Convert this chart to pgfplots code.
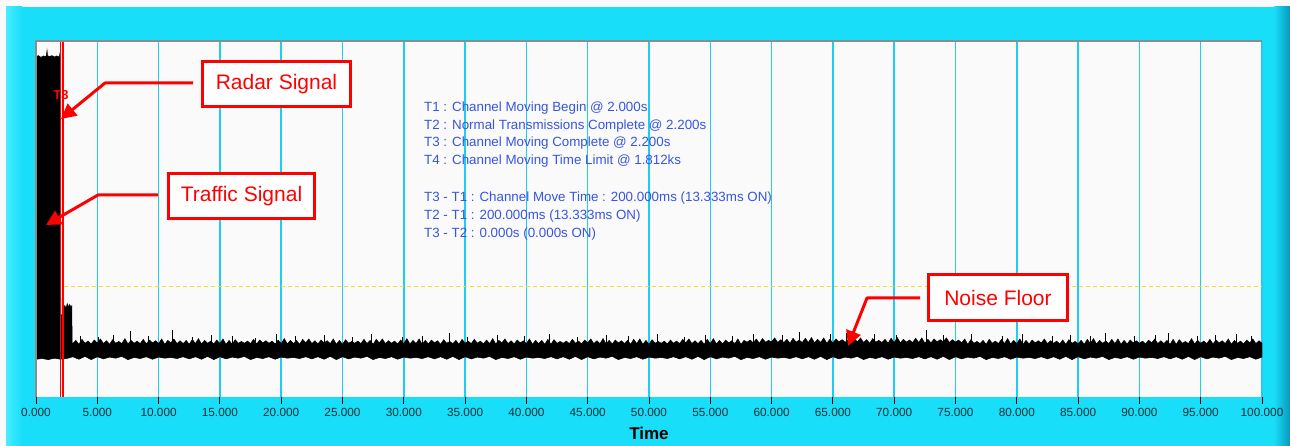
\documentclass[border=0pt]{standalone}
\usepackage{fontspec}
\setmainfont{Liberation Sans}
\usepackage{pgfplots}
\pgfplotsset{compat=1.18}
\usetikzlibrary{arrows.meta}
\definecolor{bgcyan}{RGB}{24,222,250}
\definecolor{lightcyan}{RGB}{70,238,255}
\definecolor{darkcyan}{RGB}{10,150,185}
\definecolor{gridcyan}{RGB}{30,205,242}
\definecolor{plotbg}{RGB}{250,250,250}
\definecolor{txtblue}{RGB}{55,85,225}
\definecolor{ticktxt}{RGB}{16,48,52}
\definecolor{dashyel}{RGB}{235,225,40}
\definecolor{mred}{RGB}{255,0,0}
\definecolor{bordergray}{RGB}{140,140,140}
\begin{document}
\begin{tikzpicture}[x=1pt,y=1pt]
\useasboundingbox (0,0) rectangle (1290,446);
\fill[plotbg] (0,0) rectangle (1290,446);
\fill[bgcyan] (6,0) rectangle (1290,439);
\shade[left color=lightcyan,right color=bgcyan] (6,0) rectangle (22,439);
\shade[left color=bgcyan,right color=darkcyan] (1274,0) rectangle (1290,439);
\begin{axis}[
  at={(36pt,49pt)}, anchor=south west, scale only axis,
  width=1226pt, height=356pt,
  xmin=0, xmax=100, ymin=0, ymax=100,
  axis background/.style={fill=plotbg},
  axis line style={draw=none},
  ytick=\empty,
  xtick={0,5,...,100},
  xticklabels={0.000,5.000,10.000,15.000,20.000,25.000,30.000,35.000,40.000,45.000,50.000,55.000,60.000,65.000,70.000,75.000,80.000,85.000,90.000,95.000,100.000},
  xtick pos=left, tick align=outside, major tick length=7pt,
  major x tick style={black, line width=1pt},
  xticklabel style={font=\fontsize{11.8}{13}\selectfont, text=ticktxt, yshift=-1pt},
  xmajorgrids, grid style={gridcyan, line width=1.5pt},
  xlabel={Time},
  xlabel style={at={(axis description cs:0.5,0)}, anchor=center, yshift=-36pt, font=\fontsize{17}{20}\selectfont\bfseries},
  unbounded coords=jump,
  clip=true,
]
% threshold
\addplot[dashyel, line width=1pt, dash pattern=on 4pt off 3pt] coordinates {(0,30.9)(100,30.9)};
% signal envelope (upper then lower)
\addplot[fill=black, draw=black, line width=0.5pt] coordinates {
(0,95.6)(0.2,95.9)(0.4,95.4)(0.6,95.8)(0.8,95.6)(0.86,96.2)(0.9,97.4)(0.94,95.9)(1.1,95.6)(1.3,95.9)(1.5,95.5)(1.7,95.8)(1.9,95.5)(1.96,96.6)(2.0,95.8)
(2.02,23.0)(2.2,23.2)(2.24,25.1)(2.35,25.7)(2.45,24.9)(2.55,26.2)(2.65,25.3)(2.75,26.0)(2.85,25.2)(2.92,25.6)(2.95,15.3)
(3,15.0)(3.25,15.9)(3.5,14.8)(3.75,16.2)(4,15.1)(4.25,15.7)(4.5,14.9)(4.75,16.0)
(5,15.2)(5.25,16.3)(5.5,15.0)(5.75,15.8)(6,14.8)(6.25,16.1)(6.5,15.1)(6.75,15.6)
(7,15.0)(7.25,16.4)(7.5,14.9)(7.75,15.9)(8,15.1)(8.25,15.7)(8.5,15.0)(8.75,16.2)
(9,14.9)(9.25,16.0)(9.5,15.2)(9.75,15.8)(10,15.0)(10.25,16.3)(10.5,14.8)(10.75,15.9)
(11,15.2)(11.25,16.3)(11.5,15.0)(11.75,15.8)(12,15.0)(12.25,15.9)(12.5,14.8)(12.75,16.2)
(13,15.0)(13.25,16.4)(13.5,14.9)(13.75,15.9)(14,15.1)(14.25,15.7)(14.5,14.9)(14.75,16.0)
(15,15.0)(15.25,16.3)(15.5,14.8)(15.75,15.9)(16,14.8)(16.25,16.1)(16.5,15.1)(16.75,15.6)
(17,15.1)(17.25,15.7)(17.5,15.0)(17.75,16.2)(18,14.9)(18.25,16.0)(18.5,15.2)(18.75,15.8)
(19,15.1)(19.25,15.7)(19.5,14.9)(19.75,16.0)(20,15.0)(20.25,16.4)(20.5,14.9)(20.75,15.9)
(21,15.0)(21.25,15.9)(21.5,14.8)(21.75,16.2)(22,15.2)(22.25,16.3)(22.5,15.0)(22.75,15.8)
(23,14.9)(23.25,16.0)(23.5,15.2)(23.75,15.8)(24,15.0)(24.25,16.3)(24.5,14.8)(24.75,15.9)
(25,14.8)(25.25,16.1)(25.5,15.1)(25.75,15.6)(26,15.1)(26.25,15.7)(26.5,15.0)(26.75,16.2)
(27,15.0)(27.25,15.9)(27.5,14.8)(27.75,16.2)(28,15.2)(28.25,16.3)(28.5,15.0)(28.75,15.8)
(29,15.1)(29.25,15.7)(29.5,14.9)(29.75,16.0)(30,15.0)(30.25,16.4)(30.5,14.9)(30.75,15.9)
(31,15.0)(31.25,16.3)(31.5,14.8)(31.75,15.9)(32,14.9)(32.25,16.0)(32.5,15.2)(32.75,15.8)
(33,14.8)(33.25,16.1)(33.5,15.1)(33.75,15.6)(34,15.0)(34.25,15.9)(34.5,14.8)(34.75,16.2)
(35,15.1)(35.25,15.7)(35.5,15.0)(35.75,16.2)(36,15.1)(36.25,15.7)(36.5,14.9)(36.75,16.0)
(37,15.0)(37.25,16.4)(37.5,14.9)(37.75,15.9)(38,15.2)(38.25,16.3)(38.5,15.0)(38.75,15.8)
(39,14.9)(39.25,16.0)(39.5,15.2)(39.75,15.8)(40,15.0)(40.25,16.3)(40.5,14.8)(40.75,15.9)
(41,15.0)(41.25,15.9)(41.5,14.8)(41.75,16.2)(42,14.8)(42.25,16.1)(42.5,15.1)(42.75,15.6)
(43,15.1)(43.25,15.7)(43.5,15.0)(43.75,16.2)(44,15.1)(44.25,15.7)(44.5,14.9)(44.75,16.0)
(45,15.2)(45.25,16.3)(45.5,15.0)(45.75,15.8)(46,15.0)(46.25,16.4)(46.5,14.9)(46.75,15.9)
(47,14.9)(47.25,16.0)(47.5,15.2)(47.75,15.8)(48,15.0)(48.25,15.9)(48.5,14.8)(48.75,16.2)
(49,15.0)(49.25,16.3)(49.5,14.8)(49.75,15.9)(50,14.8)(50.25,16.1)(50.5,15.1)(50.75,15.6)
(51,15.1)(51.25,15.7)(51.5,14.9)(51.75,16.0)(52,15.1)(52.25,15.7)(52.5,15.0)(52.75,16.2)
(53,15.2)(53.25,16.3)(53.5,15.0)(53.75,15.8)(54,15.0)(54.25,15.9)(54.5,14.8)(54.75,16.2)
(55,15.0)(55.25,16.4)(55.5,14.9)(55.75,15.9)(56,14.9)(56.25,16.0)(56.5,15.2)(56.75,15.8)
(57,15.0)(57.25,16.3)(57.5,14.8)(57.75,15.9)(58,15.4)(58.25,16.0)(58.5,15.2)(58.75,16.3)
(59,15.1)(59.25,16.4)(59.5,15.4)(59.75,15.9)(60,15.5)(60.25,16.6)(60.5,15.3)(60.75,16.1)
(61,15.3)(61.25,16.2)(61.5,15.1)(61.75,16.5)(62,15.4)(62.25,16.0)(62.5,15.3)(62.75,16.5)
(63,15.3)(63.25,16.7)(63.5,15.2)(63.75,16.2)(64,15.3)(64.25,16.6)(64.5,15.1)(64.75,16.2)
(65,15.2)(65.25,16.3)(65.5,15.5)(65.75,16.1)(66,15.4)(66.25,16.0)(66.5,15.2)(66.75,16.3)
(67,15.5)(67.25,16.6)(67.5,15.3)(67.75,16.1)(68,15.1)(68.25,16.4)(68.5,15.4)(68.75,15.9)
(69,15.3)(69.25,16.2)(69.5,15.1)(69.75,16.5)(70,15.3)(70.25,16.7)(70.5,15.2)(70.75,16.2)
(71,15.4)(71.25,16.0)(71.5,15.3)(71.75,16.5)(72,15.3)(72.25,16.6)(72.5,15.1)(72.75,16.2)
(73,15.2)(73.25,16.3)(73.5,15.5)(73.75,16.1)(74,15.5)(74.25,16.6)(74.5,15.3)(74.75,16.1)
(75,15.4)(75.25,16.0)(75.5,15.2)(75.75,16.3)(76,14.8)(76.25,16.1)(76.5,15.1)(76.75,15.6)
(77,15.0)(77.25,15.9)(77.5,14.8)(77.75,16.2)(78,15.1)(78.25,15.7)(78.5,15.0)(78.75,16.2)
(79,15.0)(79.25,16.4)(79.5,14.9)(79.75,15.9)(80,15.0)(80.25,16.3)(80.5,14.8)(80.75,15.9)
(81,14.9)(81.25,16.0)(81.5,15.2)(81.75,15.8)(82,15.2)(82.25,16.3)(82.5,15.0)(82.75,15.8)
(83,15.1)(83.25,15.7)(83.5,14.9)(83.75,16.0)(84,14.8)(84.25,16.1)(84.5,15.1)(84.75,15.6)
(85,15.0)(85.25,15.9)(85.5,14.8)(85.75,16.2)(86,15.0)(86.25,16.4)(86.5,14.9)(86.75,15.9)
(87,15.1)(87.25,15.7)(87.5,15.0)(87.75,16.2)(88,15.0)(88.25,16.3)(88.5,14.8)(88.75,15.9)
(89,14.9)(89.25,16.0)(89.5,15.2)(89.75,15.8)(90,15.1)(90.25,15.7)(90.5,14.9)(90.75,16.0)
(91,15.2)(91.25,16.3)(91.5,15.0)(91.75,15.8)(92,15.0)(92.25,15.9)(92.5,14.8)(92.75,16.2)
(93,14.8)(93.25,16.1)(93.5,15.1)(93.75,15.6)(94,15.0)(94.25,16.4)(94.5,14.9)(94.75,15.9)
(95,15.1)(95.25,15.7)(95.5,15.0)(95.75,16.2)(96,14.9)(96.25,16.0)(96.5,15.2)(96.75,15.8)
(97,15.0)(97.25,16.3)(97.5,14.8)(97.75,15.9)(98,15.1)(98.25,15.7)(98.5,14.9)(98.75,16.0)
(99,15.2)(99.25,16.3)(99.5,15.0)(99.75,15.8)(100,15.1)
(100,11.2)(99.5,10.6)(99,11.3)(98.5,10.8)(98,11.1)(97.5,10.5)(97,11.4)(96.5,10.9)(96,11.2)(95.5,10.7)(95,11.3)
(94.5,10.5)(94,11.4)(93.5,10.6)(93,11.3)(92.5,10.7)(92,11.3)(91.5,10.8)(91,11.1)(90.5,10.9)(90,11.2)
(89.5,10.6)(89,11.3)(88.5,10.8)(88,11.1)(87.5,10.5)(87,11.4)(86.5,10.9)(86,11.2)(85.5,10.7)(85,11.3)
(84.5,10.5)(84,11.4)(83.5,10.6)(83,11.3)(82.5,10.7)(82,11.3)(81.5,10.8)(81,11.1)(80.5,10.9)(80,11.2)
(79.5,10.6)(79,11.3)(78.5,10.8)(78,11.1)(77.5,10.5)(77,11.4)(76.5,10.9)(76,11.2)(75.5,10.7)(75,11.3)
(74.5,10.5)(74,11.4)(73.5,10.6)(73,11.3)(72.5,10.7)(72,11.3)(71.5,10.8)(71,11.1)(70.5,10.9)(70,11.2)
(69.5,10.6)(69,11.3)(68.5,10.8)(68,11.1)(67.5,10.5)(67,11.4)(66.5,10.9)(66,11.2)(65.5,10.7)(65,11.3)
(64.5,10.5)(64,11.4)(63.5,10.6)(63,11.3)(62.5,10.7)(62,11.3)(61.5,10.8)(61,11.1)(60.5,10.9)(60,11.2)
(59.5,10.6)(59,11.3)(58.5,10.8)(58,11.1)(57.5,10.5)(57,11.4)(56.5,10.9)(56,11.2)(55.5,10.7)(55,11.3)
(54.5,10.5)(54,11.4)(53.5,10.6)(53,11.3)(52.5,10.7)(52,11.3)(51.5,10.8)(51,11.1)(50.5,10.9)(50,11.2)
(49.5,10.6)(49,11.3)(48.5,10.8)(48,11.1)(47.5,10.5)(47,11.4)(46.5,10.9)(46,11.2)(45.5,10.7)(45,11.3)
(44.5,10.5)(44,11.4)(43.5,10.6)(43,11.3)(42.5,10.7)(42,11.3)(41.5,10.8)(41,11.1)(40.5,10.9)(40,11.2)
(39.5,10.6)(39,11.3)(38.5,10.8)(38,11.1)(37.5,10.5)(37,11.4)(36.5,10.9)(36,11.2)(35.5,10.7)(35,11.3)
(34.5,10.5)(34,11.4)(33.5,10.6)(33,11.3)(32.5,10.7)(32,11.3)(31.5,10.8)(31,11.1)(30.5,10.9)(30,11.2)
(29.5,10.6)(29,11.3)(28.5,10.8)(28,11.1)(27.5,10.5)(27,11.4)(26.5,10.9)(26,11.2)(25.5,10.7)(25,11.3)
(24.5,10.5)(24,11.4)(23.5,10.6)(23,11.3)(22.5,10.7)(22,11.3)(21.5,10.8)(21,11.1)(20.5,10.9)(20,11.2)
(19.5,10.6)(19,11.3)(18.5,10.8)(18,11.1)(17.5,10.5)(17,11.4)(16.5,10.9)(16,11.2)(15.5,10.7)(15,11.3)
(14.5,10.5)(14,11.4)(13.5,10.6)(13,11.3)(12.5,10.7)(12,11.3)(11.5,10.8)(11,11.1)(10.5,10.9)(10,11.2)
(9.5,10.6)(9,11.3)(8.5,10.8)(8,11.1)(7.5,10.5)(7,11.4)(6.5,10.9)(6,11.2)(5.5,10.7)(5,11.3)
(4.5,10.5)(4,11.4)(3.5,10.6)(3,11.3)
(2.5,10.8)(2.0,10.6)(1.5,10.9)(1.0,10.5)(0.5,10.8)(0,10.6)
};
% noise spikes
\addplot[black, line width=0.9pt] coordinates {
(3.6,15)(3.6,17.2)(3.6,nan)(5.1,15)(5.1,16.8)(5.1,nan)(6.3,15)(6.3,17.4)(6.3,nan)(7.7,15)(7.7,18.6)(7.7,nan)
(9.2,15)(9.2,17.0)(9.2,nan)(11.1,15)(11.1,18.7)(11.1,nan)(12.8,15)(12.8,16.9)(12.8,nan)(14.3,15)(14.3,17.5)(14.3,nan)
(16.0,15)(16.0,17.1)(16.0,nan)(17.9,15)(17.9,16.7)(17.9,nan)(19.6,15)(19.6,17.8)(19.6,nan)(21.2,15)(21.2,17.0)(21.2,nan)
(23.5,15)(23.5,17.3)(23.5,nan)(25.8,15)(25.8,16.9)(25.8,nan)(27.4,15)(27.4,17.6)(27.4,nan)(29.9,15)(29.9,16.8)(29.9,nan)
(31.5,15)(31.5,17.2)(31.5,nan)(33.7,15)(33.7,17.9)(33.7,nan)(35.2,15)(35.2,16.8)(35.2,nan)(37.6,15)(37.6,17.3)(37.6,nan)
(39.8,15)(39.8,17.0)(39.8,nan)(41.9,15)(41.9,17.6)(41.9,nan)(44.2,15)(44.2,16.9)(44.2,nan)(46.5,15)(46.5,17.4)(46.5,nan)
(48.3,15)(48.3,17.0)(48.3,nan)(50.7,15)(50.7,17.8)(50.7,nan)(52.9,15)(52.9,16.9)(52.9,nan)(54.6,15)(54.6,17.5)(54.6,nan)
(56.8,15)(56.8,17.2)(56.8,nan)(58.5,15)(58.5,17.8)(58.5,nan)(60.9,15)(60.9,17.4)(60.9,nan)(62.3,15)(62.3,18.2)(62.3,nan)
(64.8,15)(64.8,17.6)(64.8,nan)(66.1,15)(66.1,18.0)(66.1,nan)(68.4,15)(68.4,17.8)(68.4,nan)(70.2,15)(70.2,17.5)(70.2,nan)
(72.6,15)(72.6,18.9)(72.6,nan)(74.0,15)(74.0,17.3)(74.0,nan)(76.3,15)(76.3,17.6)(76.3,nan)(78.8,15)(78.8,17.1)(78.8,nan)
(80.5,15)(80.5,17.7)(80.5,nan)(82.9,15)(82.9,17.0)(82.9,nan)(84.4,15)(84.4,17.5)(84.4,nan)(86.0,15)(86.0,17.2)(86.0,nan)
(87.2,15)(87.2,17.9)(87.2,nan)(89.6,15)(89.6,17.1)(89.6,nan)(91.3,15)(91.3,17.4)(91.3,nan)(92.4,15)(92.4,17.9)(92.4,nan)
(94.7,15)(94.7,17.2)(94.7,nan)(96.2,15)(96.2,17.5)(96.2,nan)(97.9,15)(97.9,17.6)(97.9,nan)(99.1,15)(99.1,17.0)
};
% cursors T1 and T2/T3
\addplot[mred, line width=1.2pt] coordinates {(2.0,0)(2.0,100)};
\addplot[mred, line width=1.2pt] coordinates {(2.2,0)(2.2,100)};
\end{axis}
% plot border (top, left)
\draw[bordergray, line width=2pt] (36,49) -- (36,405) -- (1262,405);
% cursor label
\node[text=mred, font=\fontsize{13}{14}\selectfont\bfseries] at (61,351) {T3};
% info text
\begin{scope}[every node/.style={anchor=west, inner sep=0pt, text=txtblue, font=\fontsize{13.35}{15}\selectfont}]
\node at (424,338) {T1 : Channel Moving Begin @ 2.000s};
\node at (424,320) {T2 : Normal Transmissions Complete @ 2.200s};
\node at (424,302.5) {T3 : Channel Moving Complete @ 2.200s};
\node at (424,284.5) {T4 : Channel Moving Time Limit @ 1.812ks};
\node at (424,248) {T3 - T1 : Channel Move Time : 200.000ms (13.333ms ON)};
\node at (424,230) {T2 - T1 : 200.000ms (13.333ms ON)};
\node at (424,212) {T3 - T2 : 0.000s (0.000s ON)};
\end{scope}
% callouts
\begin{scope}[every node/.style={draw=mred, line width=3pt, fill=white, text=mred, font=\fontsize{21}{24}\selectfont, inner sep=0pt}]
\node[minimum width=148pt, minimum height=45pt] at (276.5,362) {Radar Signal};
\node[minimum width=146pt, minimum height=45pt] at (241.5,250) {Traffic Signal};
\node[minimum width=139pt, minimum height=46pt] at (998,148.5) {Noise Floor};
\end{scope}
\begin{scope}[mred, line width=3pt, line join=round]
\draw[-{Triangle[length=15pt,width=15pt]}] (193,363) -- (105,363) -- (61,327);
\draw[-{Triangle[length=15pt,width=15pt]}] (158,251) -- (98,251) -- (46,221);
\draw[-{Triangle[length=15pt,width=15pt]}] (920,148) -- (867,148) -- (848,100);
\end{scope}
\end{tikzpicture}
\end{document}
